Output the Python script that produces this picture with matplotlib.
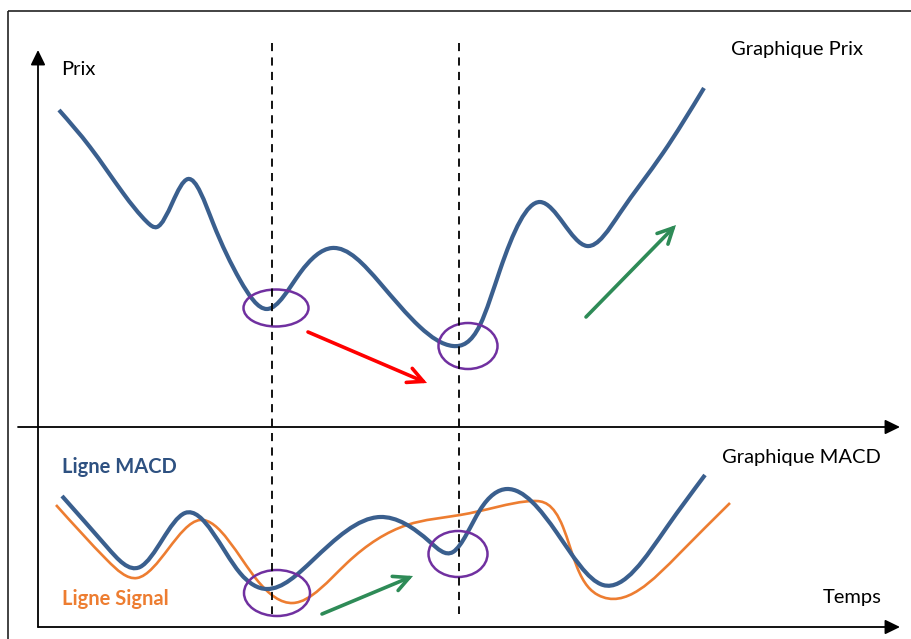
import matplotlib
matplotlib.use("Agg")
import numpy as np
import matplotlib.pyplot as plt
from matplotlib.path import Path
from matplotlib.patches import PathPatch, Ellipse, FancyArrowPatch, Rectangle

# Schematic MACD divergence diagram (canvas units: x = time, y grows downward)

# Price curve (upper panel)
price_t = [59, 90, 123, 147, 157, 188, 213, 240, 267, 300, 332, 380, 420, 453,
           480, 500, 540, 587, 620, 663, 704]
price_v = [110, 147, 193, 222, 227, 179, 223, 280, 309, 273, 248, 283, 327, 346,
           325, 270, 202, 246, 213, 153, 88]

# MACD line (lower panel)
macd_t = [62, 107, 140, 185, 240, 267, 313, 380, 430, 453, 480, 507, 557, 603,
          667, 705]
macd_v = [496, 547, 567, 513, 573, 589, 560, 517, 542, 552, 510, 489, 533, 585,
          527, 475]

# Signal line (lower panel)
signal_t = [56, 107, 137, 200, 257, 293, 347, 407, 460, 497, 533, 563, 577, 598,
            680, 730]
signal_v = [505, 560, 578, 520, 580, 603, 563, 525, 515, 507, 501, 527, 567, 595,
            553, 503]

# Crossing times marked by vertical dashed guides
cross_t = [272, 459]

BLUE = "#3A5F8E"
ORANGE = "#ED7D31"
PURPLE = "#7030A0"
GREEN = "#2E8B57"
RED = "#FF0000"
FONT = "Lato"


def smooth_path(xs, ys):
    """Natural cubic spline through the points, emitted as Bezier segments."""
    x = np.asarray(xs, float)
    y = np.asarray(ys, float)
    n = len(x)
    h = np.diff(x)
    A = np.zeros((n, n))
    b = np.zeros(n)
    A[0, 0] = A[-1, -1] = 1.0
    for i in range(1, n - 1):
        A[i, i - 1] = h[i - 1]
        A[i, i] = 2.0 * (h[i - 1] + h[i])
        A[i, i + 1] = h[i]
        b[i] = 6.0 * ((y[i + 1] - y[i]) / h[i] - (y[i] - y[i - 1]) / h[i - 1])
    M = np.linalg.solve(A, b)
    verts = [(x[0], y[0])]
    codes = [Path.MOVETO]
    for i in range(n - 1):
        d = (y[i + 1] - y[i]) / h[i]
        s0 = d - h[i] * (2 * M[i] + M[i + 1]) / 6.0
        s1 = d + h[i] * (M[i] + 2 * M[i + 1]) / 6.0
        verts += [(x[i] + h[i] / 3, y[i] + s0 * h[i] / 3),
                  (x[i + 1] - h[i] / 3, y[i + 1] - s1 * h[i] / 3),
                  (x[i + 1], y[i + 1])]
        codes += [Path.CURVE4] * 3
    return Path(verts, codes)


fig = plt.figure(figsize=(9.12, 6.39), dpi=100)
ax = fig.add_axes([0, 0, 1, 1])
ax.set_xlim(0, 912)
ax.set_ylim(639, 0)
ax.axis("off")

# Outer frame
ax.add_patch(Rectangle((8, 11), 1200, 1200, fill=False, edgecolor="#222222",
                       linewidth=1.2))

# Axes with arrowheads
axis_kw = dict(arrowstyle="-|>,head_length=0.45,head_width=0.22", mutation_scale=20,
               color="black", linewidth=1.3, shrinkA=0, shrinkB=0)
ax.add_patch(FancyArrowPatch((38, 627), (38, 50), **axis_kw))
ax.add_patch(FancyArrowPatch((18, 427), (900, 427), **axis_kw))
ax.add_patch(FancyArrowPatch((38, 627), (900, 627), **axis_kw))

# Dashed guides at the crossings
for t in cross_t:
    ax.plot([t, t], [43, 614], color="black", linewidth=1.3,
            dashes=(4.5, 3.5))

# Curves
ax.add_patch(PathPatch(smooth_path(signal_t, signal_v), fill=False,
                       edgecolor=ORANGE, linewidth=1.9, capstyle="butt"))
ax.add_patch(PathPatch(smooth_path(macd_t, macd_v), fill=False,
                       edgecolor=BLUE, linewidth=3.0, capstyle="butt"))
ax.add_patch(PathPatch(smooth_path(price_t, price_v), fill=False,
                       edgecolor=BLUE, linewidth=3.0, capstyle="butt"))

# Highlight circles
for (cx, cy, w, h) in [(276, 308, 65, 37), (468, 346, 59, 46),
                       (277, 593, 66, 46), (458, 554, 59, 46)]:
    ax.add_patch(Ellipse((cx, cy), w, h, fill=False, edgecolor=PURPLE,
                         linewidth=1.8))

# Trend arrows
arrow_kw = dict(arrowstyle="->,head_length=11,head_width=5.5", mutation_scale=1,
                linewidth=2.6, shrinkA=0, shrinkB=0, joinstyle="miter")
ax.add_patch(FancyArrowPatch((308, 332), (427, 383), color=RED, **arrow_kw))
ax.add_patch(FancyArrowPatch((586, 317), (676, 225), color=GREEN, **arrow_kw))
ax.add_patch(FancyArrowPatch((322, 614), (413, 576), color=GREEN, **arrow_kw))

# Labels
ax.text(61, 75, "Prix", fontsize=14.5, family=FONT, va="baseline", ha="left")
ax.text(731, 55, "Graphique Prix", fontsize=14.5, family=FONT, va="baseline", ha="left")
ax.text(722, 463, "Graphique MACD", fontsize=14.5, family=FONT, va="baseline", ha="left")
ax.text(823, 603, "Temps", fontsize=14.5, family=FONT, va="baseline", ha="left")
ax.text(62, 473, "Ligne MACD", fontsize=14.5, family=FONT, fontweight="bold",
        color="#2E5181", va="baseline", ha="left")
ax.text(62, 605, "Ligne Signal", fontsize=14.5, family=FONT, fontweight="bold",
        color=ORANGE, va="baseline", ha="left")

fig.savefig("out.png", dpi=100)
